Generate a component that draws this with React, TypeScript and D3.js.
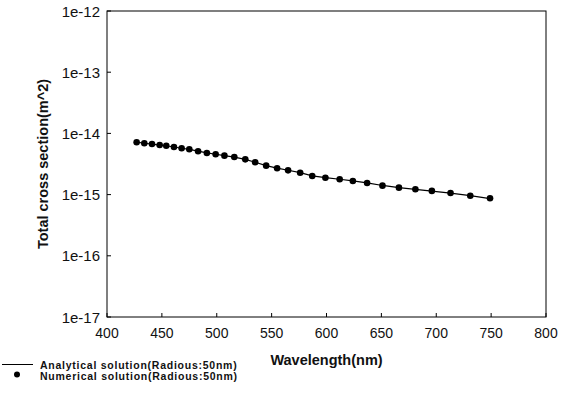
import * as d3 from "d3";

// wavelength (nm) of each computed point
const wavelengths = [427, 434, 441, 448, 454, 461, 468, 475, 483, 491, 499, 507, 516, 526, 535,
  545, 555, 565, 576, 587, 599, 612, 624, 637, 651, 666, 681, 696, 713, 731, 749];
// total cross section (m^2), numerical points
const numerical = [7.16e-15, 6.89e-15, 6.71e-15, 6.46e-15, 6.29e-15, 6.0e-15, 5.71e-15, 5.5e-15,
  5.1e-15, 4.79e-15, 4.56e-15, 4.33e-15, 4.12e-15, 3.77e-15, 3.37e-15, 2.97e-15, 2.69e-15,
  2.49e-15, 2.28e-15, 2.01e-15, 1.89e-15, 1.78e-15, 1.67e-15, 1.55e-15, 1.4e-15, 1.3e-15,
  1.22e-15, 1.15e-15, 1.06e-15, 9.6e-16, 8.7e-16];
// analytical curve, sampled at the same wavelengths
const analytical = [7.2e-15, 6.9e-15, 6.7e-15, 6.45e-15, 6.28e-15, 6.0e-15, 5.72e-15, 5.5e-15,
  5.12e-15, 4.8e-15, 4.56e-15, 4.33e-15, 4.1e-15, 3.76e-15, 3.38e-15, 2.98e-15, 2.7e-15,
  2.5e-15, 2.28e-15, 2.02e-15, 1.9e-15, 1.78e-15, 1.67e-15, 1.55e-15, 1.41e-15, 1.3e-15,
  1.22e-15, 1.14e-15, 1.06e-15, 9.6e-16, 8.6e-16];

const xTicks = [400, 450, 500, 550, 600, 650, 700, 750, 800];
const yTicks = [1e-17, 1e-16, 1e-15, 1e-14, 1e-13, 1e-12];
const yTickLabels = ["1e-17", "1e-16", "1e-15", "1e-14", "1e-13", "1e-12"];
const legendLabels = ["Analytical solution(Radious:50nm)", "Numerical solution(Radious:50nm)"];

const W = 565, H = 395;
const L = 107, R = 546, T = 11, B = 317;

export default function App() {
  const x = d3.scaleLinear().domain([400, 800]).range([L, R]);
  const y = d3.scaleLog().domain([1e-17, 1e-12]).range([B, T]);

  const line = d3.line<number>()
    .x((d, i) => x(wavelengths[i]))
    .y(d => y(d));

  const font = "Arial, 'Liberation Sans', sans-serif";

  return (
    <svg width={W} height={H} style={{ position: "absolute", left: 0, top: 0, background: "#fff" }}
      fontFamily={font}>
      {/* frame */}
      <rect x={L} y={T} width={R - L} height={B - T} fill="none" stroke="#000" strokeWidth={1} />

      {/* x ticks */}
      {xTicks.map(t => (
        <g key={"x" + t}>
          <line x1={x(t)} x2={x(t)} y1={B} y2={B - 4} stroke="#000" />
          <text x={x(t)} y={338} textAnchor="middle" fontSize={14} fill="#111">{t}</text>
        </g>
      ))}

      {/* y ticks */}
      {yTicks.map((t, i) => (
        <g key={"y" + i}>
          <line x1={L} x2={L + 4} y1={y(t)} y2={y(t)} stroke="#000" />
          <text x={100} y={y(t) + 5.5} textAnchor="end" fontSize={15} fill="#111">{yTickLabels[i]}</text>
        </g>
      ))}

      {/* axis titles */}
      <text x={(L + R) / 2} y={365} textAnchor="middle" fontSize={14.5} fontWeight="bold" fill="#111">
        Wavelength(nm)
      </text>
      <text transform={`translate(48, ${(T + B) / 2}) rotate(-90)`} textAnchor="middle" fontSize={14.5}
        fontWeight="bold" fill="#111">
        Total cross section(m^2)
      </text>

      {/* analytical line */}
      <path d={line(analytical) ?? ""} fill="none" stroke="#000" strokeWidth={1.2} />

      {/* numerical points */}
      {numerical.map((v, i) => (
        <circle key={"p" + i} cx={x(wavelengths[i])} cy={y(v)} r={3.3} fill="#000" />
      ))}

      {/* legend */}
      <line x1={2} x2={33} y1={364.5} y2={364.5} stroke="#000" strokeWidth={1} />
      <text x={40} y={368.5} fontSize={10.5} fontWeight="bold" letterSpacing={0.75} fill="#111">{legendLabels[0]}</text>
      <circle cx={17} cy={374.5} r={3} fill="#000" />
      <text x={40} y={379.5} fontSize={10.5} fontWeight="bold" letterSpacing={0.75} fill="#111">{legendLabels[1]}</text>
    </svg>
  );
}
